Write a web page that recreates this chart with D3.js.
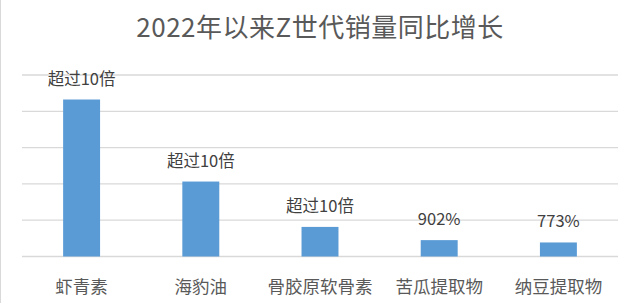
<!DOCTYPE html>
<html>
<head>
<meta charset="utf-8">
<script src="https://cdn.jsdelivr.net/npm/d3@7"></script>
<style>
  html, body { margin: 0; padding: 0; background: #fff; }
  svg { display: block; }
  text { font-family: "Noto Sans CJK SC", "Noto Sans", sans-serif; }
</style>
</head>
<body>
<svg id="chart" width="640" height="303"></svg>
<script>
// Growth of Gen-Z sales since 2022, year over year (%)
const titleText = "2022年以来Z世代销量同比增长";
const categories = ["虾青素", "海豹油", "骨胶原软骨素", "苦瓜提取物", "纳豆提取物"];
const growth = [8650, 4130, 1630, 902, 773];
const valueLabels = ["超过10倍", "超过10倍", "超过10倍", "902%", "773%"];
const gridTicks = [0, 2000, 4000, 6000, 8000, 10000];

const svg = d3.select("#chart");
const W = 640, H = 303;
const margin = { left: 22, right: 22, top: 75, bottom: 46.5 };

svg.append("rect").attr("x", 0).attr("y", 0).attr("width", W).attr("height", H).attr("fill", "#fff");
// chart frame, only its left edge is inside the view
svg.append("line").attr("x1", 0.5).attr("x2", 0.5).attr("y1", 0).attr("y2", H)
  .attr("stroke", "#d9d9d9").attr("stroke-width", 1);

const x = d3.scaleBand().domain(categories).range([margin.left, W - margin.right]).padding(0);
const y = d3.scaleLinear().domain([0, 10000]).range([H - margin.bottom, margin.top]);

// horizontal gridlines
svg.append("g").selectAll("line").data(gridTicks).join("line")
  .attr("x1", margin.left).attr("x2", W - margin.right)
  .attr("y1", d => y(d)).attr("y2", d => y(d))
  .attr("stroke", "#d9d9d9").attr("stroke-width", 1.3);

const barW = x.bandwidth() * 0.31;
const data = categories.map((c, i) => ({ c, v: growth[i], label: valueLabels[i] }));

svg.append("g").selectAll("rect").data(data).join("rect")
  .attr("x", d => x(d.c) + (x.bandwidth() - barW) / 2)
  .attr("width", barW)
  .attr("y", d => y(d.v))
  .attr("height", d => y(0) - y(d.v))
  .attr("fill", "#5b9bd5");

// value labels above bars
svg.append("g").selectAll("text").data(data).join("text")
  .attr("x", d => x(d.c) + x.bandwidth() / 2)
  .attr("y", d => y(d.v) - 15)
  .attr("text-anchor", "middle")
  .attr("font-size", 16.5)
  .attr("fill", "#404040")
  .text(d => d.label);

// category axis labels
const xAxis = d3.axisBottom(x).tickSize(0).tickPadding(0);
const gx = svg.append("g").attr("transform", `translate(0,${y(0)})`).call(xAxis);
gx.select(".domain").remove();
gx.selectAll("text")
  .attr("y", 36)
  .attr("dy", 0)
  .attr("font-size", 17.5)
  .attr("font-family", "Noto Sans CJK SC")
  .attr("fill", "#595959");

// title
svg.append("text")
  .attr("x", W / 2).attr("y", 37)
  .attr("text-anchor", "middle")
  .attr("font-size", 26)
  .attr("letter-spacing", 0.5)
  .attr("fill", "#595959")
  .text(titleText);
</script>
</body>
</html>
